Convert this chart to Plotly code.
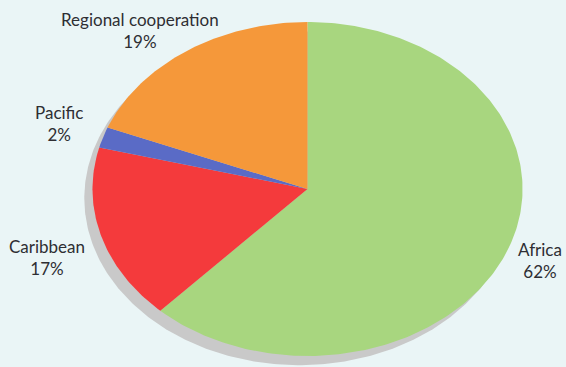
import numpy as np
import plotly.graph_objects as go

# Share of funds by region (percent)
regions = ["Africa", "Caribbean", "Pacific", "Regional cooperation"]
shares = [62, 17, 2, 19]
colors = ["#a8d67f", "#f43a3c", "#5a6bc6", "#f5983a"]

BG = "#eaf5f6"
SHADOW = "#c9c9c9"
TEXT = "#2e2e33"
FONT = "Lato"

fig = go.Figure()


def wedge(start_frac, end_frac, dx=0.0, dy=0.0, center=True):
    """Closed outline of a slice; angles run clockwise from 12 o'clock."""
    n = max(int((end_frac - start_frac) * 400), 8)
    t = np.linspace(start_frac, end_frac, n) * 2 * np.pi
    xs = np.sin(t) + dx
    ys = np.cos(t) + dy
    if center:
        xs = np.concatenate([[dx], xs, [dx]])
        ys = np.concatenate([[dy], ys, [dy]])
    return xs, ys


# drop shadow under the disc
sx, sy = wedge(0, 1, dx=-0.038, dy=-0.055, center=False)
fig.add_trace(go.Scatter(x=sx, y=sy, fill="toself", fillcolor=SHADOW,
                         line=dict(width=0), mode="lines", hoverinfo="skip",
                         showlegend=False))

total = float(sum(shares))
start = 0.0
for name, val, col in zip(regions, shares, colors):
    end = start + val / total
    xs, ys = wedge(start, end)
    fig.add_trace(go.Scatter(x=xs, y=ys, fill="toself", fillcolor=col,
                             line=dict(width=0, color=col), mode="lines",
                             name=name, hoverinfo="name", showlegend=False))
    start = end

# label anchors in data coordinates (layout only)
label_pos = {
    "Africa": (1.083, -0.43),
    "Caribbean": (-1.212, -0.41),
    "Pacific": (-1.155, 0.39),
    "Regional cooperation": (-0.779, 0.95),
}
for name, val in zip(regions, shares):
    x, y = label_pos[name]
    fig.add_annotation(x=x, y=y, xref="x", yref="y", showarrow=False,
                       text=f"{name}<br>{val}%", align="center",
                       font=dict(family=FONT, size=17, color=TEXT))

fig.update_layout(
    width=566, height=367,
    margin=dict(l=0, r=0, t=0, b=0),
    paper_bgcolor=BG, plot_bgcolor=BG,
    xaxis=dict(range=[-1.430, 1.202], visible=False, fixedrange=True),
    yaxis=dict(range=[-1.066, 1.132], visible=False, fixedrange=True),
)

fig.write_html("out.html")
